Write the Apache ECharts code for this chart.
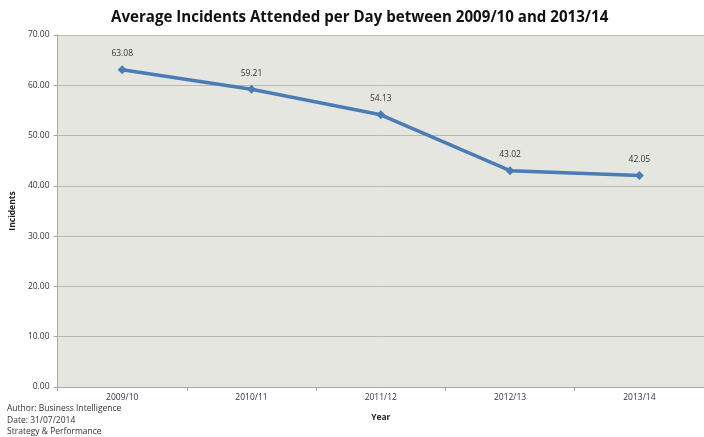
<!DOCTYPE html>
<html>
<head>
<meta charset="utf-8">
<script src="https://cdn.jsdelivr.net/npm/echarts@6/dist/echarts.min.js"></script>
<style>
  html, body { margin: 0; padding: 0; background: #ffffff; }
  #chart { width: 704px; height: 437px; }
</style>
</head>
<body>
<div id="chart"></div>
<script>
// Financial years and average incidents attended per day
const years = ['2009/10', '2010/11', '2011/12', '2012/13', '2013/14'];
const avgIncidents = [63.08, 59.21, 54.13, 43.02, 42.05];
const yMin = 0;
const yMax = 70;
const yStep = 10;
const footerLines = ['Author: Business Intelligence', 'Date: 31/07/2014', 'Strategy & Performance'];

const font = '"Open Sans", "Liberation Sans", sans-serif';
const chart = echarts.init(document.getElementById('chart'), null, { renderer: 'canvas' });

chart.setOption({
  backgroundColor: '#ffffff',
  animation: false,
  title: {
    text: 'Average Incidents Attended per Day between 2009/10 and 2013/14',
    left: 106,
    top: 5,
    textStyle: { fontFamily: font, fontSize: 15.1, fontWeight: 'bold', color: '#111' }
  },
  graphic: [{
    type: 'text',
    left: 7,
    top: 403,
    silent: true,
    style: {
      text: footerLines.join('\n'),
      font: '8.5px ' + font,
      fill: '#333',
      lineHeight: 11.5
    }
  }],
  grid: {
    left: 57,
    right: -1,
    top: 35,
    bottom: 50,
    show: true,
    backgroundColor: '#e6e6e1',
    borderWidth: 0
  },
  xAxis: {
    type: 'category',
    data: years,
    boundaryGap: true,
    name: 'Year',
    nameLocation: 'middle',
    nameGap: 26,
    nameTextStyle: { fontFamily: font, fontSize: 8.5, fontWeight: 'bold', color: '#222' },
    axisLine: { lineStyle: { color: '#a8a8a8', width: 1 } },
    axisTick: { show: true, length: 4, lineStyle: { color: '#a8a8a8' } },
    axisLabel: { fontFamily: font, fontSize: 8.5, color: '#333', margin: 6 }
  },
  yAxis: {
    type: 'value',
    min: yMin,
    max: yMax,
    interval: yStep,
    name: 'Incidents',
    nameLocation: 'middle',
    nameGap: 38,
    nameRotate: 90,
    nameTextStyle: { fontFamily: font, fontSize: 8.5, fontWeight: 'bold', color: '#222' },
    axisLine: { show: true, lineStyle: { color: '#a8a8a8', width: 1 } },
    axisTick: { show: true, length: 4, lineStyle: { color: '#a8a8a8' } },
    axisLabel: {
      fontFamily: font, fontSize: 8.5, color: '#333', margin: 8,
      formatter: v => v.toFixed(2)
    },
    splitLine: { show: true, lineStyle: { color: '#b9b9b1', width: 1 } }
  },
  series: [{
    type: 'line',
    data: avgIncidents,
    symbol: 'diamond',
    symbolSize: 9,
    lineStyle: { color: '#4a7db3', width: 3.5 },
    itemStyle: { color: '#4a7db3' },
    label: {
      show: true,
      position: 'top',
      distance: 7,
      fontFamily: font,
      fontSize: 8.5,
      color: '#333',
      formatter: p => p.value.toFixed(2)
    }
  }]
});
</script>
</body>
</html>
